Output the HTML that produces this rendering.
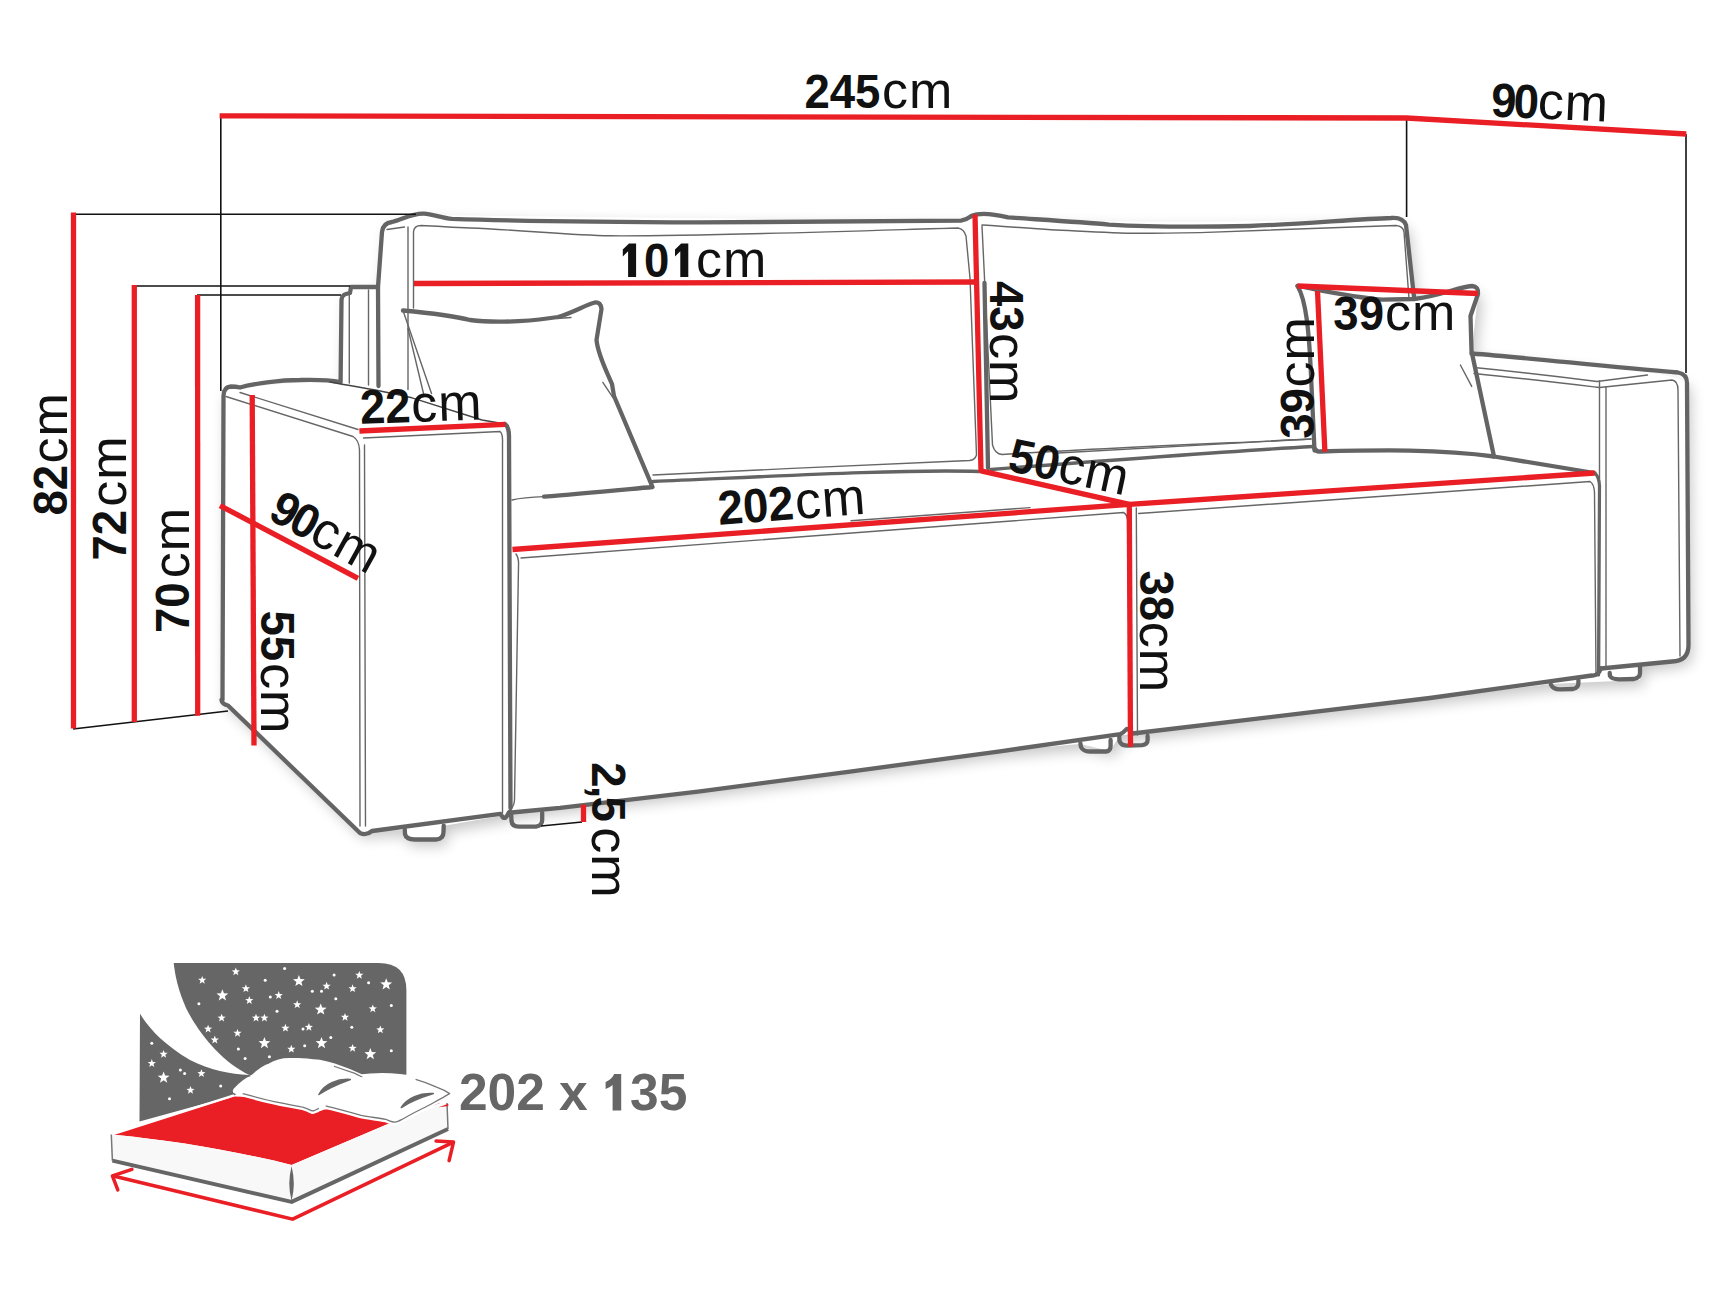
<!DOCTYPE html>
<html><head><meta charset="utf-8">
<style>
html,body{margin:0;padding:0;background:#fff;width:1726px;height:1295px;overflow:hidden}
svg{display:block}
text{font-family:"Liberation Sans",sans-serif;fill:#111}
.b{font-weight:bold}
.g{fill:none;stroke:#646464;stroke-width:4.3;stroke-linecap:round;stroke-linejoin:round}
.t{fill:none;stroke:#666;stroke-width:1.4;stroke-linecap:round;stroke-linejoin:round}
.r{fill:none;stroke:#e91f25;stroke-width:5.3;stroke-linecap:butt}
.k{fill:none;stroke:#111;stroke-width:1.6}
</style></head>
<body>
<svg width="1726" height="1295" viewBox="0 0 1726 1295">
<defs>
<path id="st" d="M0.000,-1.000 L0.247,-0.340 L0.951,-0.309 L0.399,0.130 L0.588,0.809 L0.000,0.420 L-0.588,0.809 L-0.399,0.130 L-0.951,-0.309 L-0.247,-0.340Z"/>
<filter id="blur" x="-20%" y="-50%" width="140%" height="200%"><feGaussianBlur stdDeviation="7"/></filter>
</defs>
<!-- shadow -->
<filter id="sh" x="-10%" y="-10%" width="120%" height="130%"><feGaussianBlur stdDeviation="7"/></filter>
<path d="M221.5,700 L221.5,392 C236,387 300,381 340.6,382 L341.5,295 L350,293 L351,287 L378,287 L383,223 C402,220 410,214 424,215 L961,221 L971.5,216 C1010,219 1140,226 1391,218 L1406,225 L1414,297 L1472,286 L1478,295 L1471.5,353.5 C1600,366 1678,372.5 1687,383 L1688.5,648 Q1688,660 1675,661 L1640,666 L1640,680 L1551,684 L1120,735.5 L1110,751 L1080,744 L1000,751.3 L700,791.3 L511,812.5 L500,816 L443,826 L443,840 L405,840 L405,830 L372,831 L360,833 L228,705.5 Z" fill="#000" opacity="0.22" transform="translate(4,6)" filter="url(#sh)"/>
<path d="M221.5,700 L221.5,392 C236,387 300,381 340.6,382 L341.5,295 L350,293 L351,287 L378,287 L383,223 C402,220 410,214 424,215 L961,221 L971.5,216 C1010,219 1140,226 1391,218 L1406,225 L1414,297 L1472,286 L1478,295 L1471.5,353.5 C1600,366 1678,372.5 1687,383 L1688.5,648 Q1688,660 1675,661 L1640,666 L1640,680 L1551,684 L1120,735.5 L1110,751 L1080,744 L1000,751.3 L700,791.3 L511,812.5 L500,816 L443,826 L443,840 L405,840 L405,830 L372,831 L360,833 L228,705.5 Z" fill="#fff"/>

<!-- SOFA THICK OUTLINE -->
<g class="g">
<!-- left arm + back silhouette -->
<path d="M222.5,700 L223.5,396 Q223.5,387 231,386.5 Q236,386.5 240,387.5 C252,384 280,380 300,380 C320,379.5 335,381 340.6,382 L341.5,300 Q342,295 346,294 L350,293 L351,287 L378,287 L382,232 Q383,223 392,222 C402,220 412,213 424,213.7 C432,214 442,218 452,218.9 C500,220.5 600,222 700,222.4 C800,222.5 900,221.5 961,220.7 Q966,220 971.5,216"/>
<path d="M971.5,216 C978,213 990,213 1008,217.4 C1030,219 1080,222 1109,224.6 C1150,227 1200,227 1250,226 C1300,224 1360,219 1391,218 Q1403,217 1406,225 L1414,297"/>
<!-- right back cushion left edge -->
<path d="M984.5,283 L988,468"/>
<path d="M378,287 L378.5,386"/>
<!-- right arm -->
<path d="M1471.5,353.5 C1530,358 1600,366 1678,372.5 Q1687,374 1687,383 L1688.5,645 Q1688.5,661 1672,661.5 L1601,668.5"/>
<!-- bottom front edge -->
<path d="M1601,668.5 Q1598,676 1592,675.5 L1430,698 L1132.6,733.5 Q1130,729 1126.8,728.9 Q1123,733 1120.4,734.1 L1000,751.3 L850,771.6 L700,791.3 L560,807.9 L511.5,812.5 Q509.5,810 508,814 Q506,819 503,817.5 L500.3,813.8 L372,831 Q366,836 360,833 L228,705.5 Q222,704 221.5,700"/>
<!-- left arm outer right -->
<path d="M505,424 Q509,427 509,436 L510.5,808"/>
<!-- seat divider / right seat end -->
<path d="M1594.5,473 Q1599,476 1599.5,486 L1598.5,675" stroke-width="3.2"/>
<!-- seat back edges -->
<path d="M653,481.5 C760,477 900,469 979,471.5" stroke-width="3.4"/>
<path d="M991,469.5 C1100,461 1250,450 1313.5,446.5" stroke-width="3.4"/>
<!-- right pillow bottom & seat right end -->
<path d="M1313.5,446.5 Q1316,452 1320,451.5 C1380,450 1440,449 1494,456.5 L1594.5,473"/>
<!-- left pillow -->
<path d="M403,310.5 C430,313 450,315 470,320 C500,324 540,320 558,317 C575,312 585,305 595,302.5 Q601,302 601.5,309 L596.5,340 C598,355 606,370 612,384 L614,396 L652.5,487 C620,490 580,494 544,496.6"/>
<!-- right pillow -->
<path d="M1297.5,286 C1320,290 1350,297 1382,299.6 L1414,299 C1440,296 1458,287 1472,286 Q1479,286.5 1478,294 L1470.5,316 L1471.5,351 L1494,456.5"/>
<path d="M1297.5,286 C1306,300 1309,330 1311,375 L1314.5,450.5"/>
<!-- feet -->
<path d="M404.8,829.5 L405,834 Q406,839.5 415,839.5 L436,839.5 Q443.5,839 443.5,832 L443.7,825.6"/>
<path d="M511.2,814.8 L511.5,821 Q512,826.6 519,826.6 L536,826.6 Q542,826 542.2,820 L542.2,812.8"/>
<path d="M1080.4,743.4 L1081,747 Q1083,751.5 1090,751.5 L1106,751.5 Q1110.6,751 1110.6,746 L1110.6,739.9"/>
<path d="M1119.2,735.3 L1119.5,741 Q1121,745.7 1128,745.7 L1142,745.1 Q1147.6,744.5 1147.6,740 L1147.6,735.9"/>
<path d="M1550.8,684.3 Q1553,689.3 1560,689.3 L1573,689 Q1578.4,688 1578.4,683 L1578.4,680.5"/>
<path d="M1609.7,673 L1610,676 Q1612,679.3 1619,679.3 L1634,679 Q1640,678 1640,673 L1640,666.7"/>
</g>

<!-- THIN LINES -->
<g class="t">
<!-- left arm internal -->
<path d="M240,392.5 L358,429.5"/>
<path d="M226,396.5 L353,436.5 Q359,440 359.5,450 L360,826"/>
<path d="M363.5,438 L500,431.5 Q503,434 502.5,443 L502.5,813"/>
<path d="M364.5,445 L365.5,826"/>
<path d="M330,382 C345,385 380,390 412,397.8 L482,420 L505,424" stroke="#444" stroke-width="1.4"/>
<!-- back left posts -->
<path d="M349.3,294 L349.3,383"/>
<path d="M368.5,290 L368.5,385"/>
<path d="M387,229.5 L404.5,227"/>
<path d="M408,227 L408,389.5"/>
<!-- left back cushion inner -->
<path d="M413.5,308 L413.5,232 Q414,225.5 421,225.5 C440,226 450,227.5 470,228 C520,230 570,235 610,235.8 C700,236.5 900,229.5 958,228 Q964,229 966,236 L970,278 L976.5,455 Q975,460 969.5,460.5 C860,465 760,470 653,475"/>
<!-- right back cushion inner -->
<path d="M982,225 C1000,226 1030,228.5 1051,229.7 C1080,231 1110,233 1138,233.3 C1160,233.3 1180,233 1200,232.6 C1280,230 1350,227 1396,225.5 Q1403,226 1404,232 L1409,298.5"/>
<path d="M982,226 L992.5,445 Q995,454 1002,454.5 C1100,448 1230,443 1311,439"/>
<!-- seat front edges -->
<path d="M521,558 L1123.5,512.5 Q1127,514 1127.5,520 L1130,735"/>
<path d="M516,554 Q519,558 518.5,566 L514.5,800 Q514,806 511,809"/>
<path d="M512,500 C520,498 530,497 544,496.6"/>
<path d="M1136.3,508 L1137.5,735"/>
<path d="M1138.6,513.5 L1590,481.5 Q1594,484 1594.5,492 L1596,675"/>
<path d="M1057.7,453 L1311,439"/>
<path d="M851,520.7 L1030,507.6"/>
<!-- right arm inner -->
<path d="M1474,367.5 C1520,372 1570,378 1597,381.5 L1647.5,375"/>
<path d="M1474,373.5 C1520,378 1570,384 1599.5,387.5 L1672,380 Q1678,381 1678,390 L1680,656"/>
<path d="M1599.5,381 L1599.5,672"/>
<path d="M1606,387 L1606,668"/>
<!-- pillow creases -->
<path d="M403,310.5 L431.5,393.5"/>
<path d="M408,328.5 L423.5,393.5"/>
<path d="M602.8,382.4 L613,397.6"/>
<path d="M557,318.5 L571,317.5"/>
<path d="M1460.4,365 L1471.7,386.4"/>
</g>

<!-- BLACK THIN DIM LINES -->
<g class="k">
<path d="M220.8,116 L220.8,391"/>
<path d="M73,214.3 L416,214.3"/>
<path d="M134,286 L350,286"/>
<path d="M197,295 L341,295"/>
<path d="M73,729 L228,711"/>
<path d="M1406.6,118 L1406.6,217"/>
<path d="M1686,134 L1686,373"/>
<path d="M541,826 L582,822"/>
</g>

<!-- RED DIM LINES -->
<g class="r">
<path d="M219.6,115.8 L1406.5,118 L1686.3,134" stroke-linejoin="round"/>
<path d="M73.5,212.6 L73.5,728.6"/>
<path d="M134.3,285 L134.3,722"/>
<path d="M197.6,295 L197.7,715.7"/>
<path d="M414,283.5 L975,282"/>
<path d="M975,214.4 L981,470.8 L1129.3,504.4" stroke-linejoin="round"/>
<path d="M512.5,549.5 L1129.3,504.4 L1594.7,473" stroke-linejoin="round"/>
<path d="M1129.3,504.4 L1130.5,746.8"/>
<path d="M359.4,431 L505.4,424.4"/>
<path d="M252.2,395 L254,745.6"/>
<path d="M220,505.6 L358,578.4"/>
<path d="M1297.4,286 L1478,293.5"/>
<path d="M1317.5,291 L1324.9,451.7"/>
<path d="M583.5,804.6 L583.5,822"/>
</g>

<!-- TEXT -->
<g transform="translate(804.4,107.8) rotate(0)"><text transform="scale(0.95,1)" x="0" y="0" font-weight="bold" font-size="48">245</text><text x="77.6" y="0" font-size="52" letter-spacing="1">cm</text></g>
<g transform="translate(360.4,423.8) rotate(-2)"><text transform="scale(0.95,1)" x="0" y="0" font-weight="bold" font-size="48">22</text><text x="51.5" y="0" font-size="52" letter-spacing="1">cm</text></g>
<g transform="translate(1333.3,330.4) rotate(0)"><text transform="scale(0.95,1)" x="0" y="0" font-weight="bold" font-size="48">39</text><text x="51.6" y="0" font-size="52" letter-spacing="1">cm</text></g>
<g transform="translate(1490.6,116.5) rotate(2.5)"><text transform="scale(0.95,1)" x="0" y="0" font-weight="bold" font-size="48" letter-spacing="-3">90</text><text x="46.6" y="0" font-size="52" letter-spacing="1">cm</text></g>
<g transform="translate(719,524.8) rotate(-4.3)"><text transform="scale(0.95,1)" x="0" y="0" font-weight="bold" font-size="48">202</text><text x="77.4" y="0" font-size="52" letter-spacing="1">cm</text></g>
<g transform="translate(1006.5,470.5) rotate(12)"><text transform="scale(0.95,1)" x="0" y="0" font-weight="bold" font-size="48">50</text><text x="50.5" y="0" font-size="52" letter-spacing="1">cm</text></g>
<g transform="translate(266.5,518) rotate(29)"><text transform="scale(0.95,1)" x="0" y="0" font-weight="bold" font-size="48" letter-spacing="-3">90</text><text x="46.5" y="0" font-size="52" letter-spacing="1">cm</text></g>
<g transform="translate(990,281) rotate(90)"><text transform="scale(0.95,1)" x="0" y="0" font-weight="bold" font-size="48">43</text><text x="51.9" y="0" font-size="52" letter-spacing="1">cm</text></g>
<g transform="translate(261.3,610.4) rotate(90)"><text transform="scale(0.95,1)" x="0" y="0" font-weight="bold" font-size="48">55</text><text x="52.6" y="0" font-size="52" letter-spacing="1">cm</text></g>
<g transform="translate(1140,570.5) rotate(90)"><text transform="scale(0.95,1)" x="0" y="0" font-weight="bold" font-size="48">38</text><text x="51.2" y="0" font-size="52" letter-spacing="1">cm</text></g>
<g transform="translate(592,762.3) rotate(90)"><text transform="scale(0.95,1)" x="0" y="0" font-weight="bold" font-size="48" letter-spacing="-2">2,5</text><text x="64.9" y="0" font-size="52" letter-spacing="1">cm</text></g>
<g transform="translate(66.8,515.6) rotate(-90)"><text transform="scale(0.95,1)" x="0" y="0" font-weight="bold" font-size="48">82</text><text x="52.2" y="0" font-size="52" letter-spacing="1">cm</text></g>
<g transform="translate(126.2,560.5) rotate(-90)"><text transform="scale(0.95,1)" x="0" y="0" font-weight="bold" font-size="48">72</text><text x="53.8" y="0" font-size="52" letter-spacing="1">cm</text></g>
<g transform="translate(189.2,633) rotate(-90)"><text transform="scale(0.95,1)" x="0" y="0" font-weight="bold" font-size="48">70</text><text x="54.8" y="0" font-size="52" letter-spacing="1">cm</text></g>
<g transform="translate(1313.5,438.8) rotate(-90)"><text transform="scale(0.95,1)" x="0" y="0" font-weight="bold" font-size="48">39</text><text x="51.3" y="0" font-size="52" letter-spacing="1">cm</text></g>
<g transform="translate(622.8,277)"><path d="M5.3,0 L13.3,0 L13.3,-33.6 L6.2,-33.6 L0,-27.5 L0,-20.5 L5.3,-25.8 Z" fill="#111"/><text x="22.4" y="0" transform="scale(0.95,1)" font-weight="bold" font-size="48">0</text><path transform="translate(52.2,0)" d="M5.3,0 L13.3,0 L13.3,-33.6 L6.2,-33.6 L0,-27.5 L0,-20.5 L5.3,-25.8 Z" fill="#111"/><text x="73.3" y="0" font-size="52" letter-spacing="1">cm</text></g>
<text x="458.9" y="1110.4" font-weight="bold" font-size="51.5" style="fill:#666">202 x</text>
<path transform="translate(605.6,1110.4)" d="M7,0 L15.6,0 L15.6,-36.5 L8.6,-36.5 Q6,-31 0,-28.5 L0,-21.5 Q4.5,-23 7,-25.5 Z" fill="#666"/>
<text x="630" y="1110.4" font-weight="bold" font-size="51.5" style="fill:#666">35</text>

<!-- BED ICON -->
<g id="bed">
<!-- gray night sky -->
<path d="M173.7,963.1 L378.7,963.1 Q406.4,963.1 406.4,990.3 L406.4,1075 L249.3,1075 C222,1062 199,1034 186,1008 C178,990 175,975 173.7,963.1 Z" fill="#666"/>
<path d="M140,1013.8 C150,1030 165,1045 190,1060 C210,1070 230,1074 249.3,1075 L260,1080 L234,1095.4 L139.5,1121.5 Z" fill="#666"/>
<g fill="#fff"><use href="#st" transform="translate(298.9,981.1) scale(6.2)"/><use href="#st" transform="translate(222.4,995.4) scale(6.2)"/><use href="#st" transform="translate(320.7,1009.6) scale(6.2)"/><use href="#st" transform="translate(386.2,984.4) scale(6.2)"/><use href="#st" transform="translate(264.4,1043.2) scale(6.2)"/><use href="#st" transform="translate(321.5,1043.2) scale(6.2)"/><use href="#st" transform="translate(370.3,1054.2) scale(6.2)"/><use href="#st" transform="translate(163.6,1077.7) scale(6.2)"/><use href="#st" transform="translate(235.8,971.8) scale(4.3)"/><use href="#st" transform="translate(202.2,980.2) scale(4.3)"/><use href="#st" transform="translate(245.9,988.6) scale(4.3)"/><use href="#st" transform="translate(278.7,995.4) scale(4.3)"/><use href="#st" transform="translate(326.6,986.1) scale(4.3)"/><use href="#st" transform="translate(359.3,975.2) scale(4.3)"/><use href="#st" transform="translate(352.6,988.6) scale(4.3)"/><use href="#st" transform="translate(249.3,1000.4) scale(4.3)"/><use href="#st" transform="translate(297.2,1004.6) scale(4.3)"/><use href="#st" transform="translate(372.8,1008.8) scale(4.3)"/><use href="#st" transform="translate(221.6,1018.0) scale(4.3)"/><use href="#st" transform="translate(256.0,1018.0) scale(4.3)"/><use href="#st" transform="translate(264.4,1018.0) scale(4.3)"/><use href="#st" transform="translate(345.0,1017.2) scale(4.3)"/><use href="#st" transform="translate(208.1,1029.0) scale(4.3)"/><use href="#st" transform="translate(237.5,1033.2) scale(4.3)"/><use href="#st" transform="translate(285.4,1028.1) scale(4.3)"/><use href="#st" transform="translate(308.9,1027.3) scale(4.3)"/><use href="#st" transform="translate(380.3,1029.8) scale(4.3)"/><use href="#st" transform="translate(214.8,1039.9) scale(4.3)"/><use href="#st" transform="translate(291.3,1049.1) scale(4.3)"/><use href="#st" transform="translate(352.6,1048.3) scale(4.3)"/><use href="#st" transform="translate(163.6,1054.2) scale(4.3)"/><use href="#st" transform="translate(151.8,1063.4) scale(4.3)"/><use href="#st" transform="translate(201.4,1073.5) scale(4.3)"/><use href="#st" transform="translate(190.5,1090.3) scale(4.3)"/><circle cx="284.6" cy="968.5" r="1.5"/><circle cx="265.2" cy="980.2" r="1.5"/><circle cx="334.1" cy="974.9" r="1.5"/><circle cx="368.6" cy="982.8" r="1.5"/><circle cx="312.3" cy="991.2" r="1.5"/><circle cx="321.5" cy="991.2" r="1.5"/><circle cx="335.8" cy="998.7" r="1.5"/><circle cx="198.9" cy="1003.8" r="1.5"/><circle cx="270.3" cy="997.0" r="1.5"/><circle cx="277.0" cy="1011.3" r="1.5"/><circle cx="391.3" cy="1005.4" r="1.5"/><circle cx="303.0" cy="1029.0" r="1.5"/><circle cx="351.8" cy="1027.3" r="1.5"/><circle cx="330.8" cy="1037.4" r="1.5"/><circle cx="238.4" cy="1049.1" r="1.5"/><circle cx="304.7" cy="1045.8" r="1.5"/><circle cx="245.1" cy="1058.4" r="1.5"/><circle cx="269.4" cy="1056.7" r="1.5"/><circle cx="391.3" cy="1050.8" r="1.5"/><circle cx="151.8" cy="1043.2" r="1.5"/><circle cx="180.4" cy="1070.1" r="1.5"/><circle cx="184.6" cy="1073.5" r="1.5"/><circle cx="220.7" cy="1086.1" r="1.5"/><circle cx="169.5" cy="1098.7" r="1.5"/></g>
<!-- mattress -->
<path d="M111.3,1134.5 L234,1096.5 L440,1103 L386.1,1124.7 L291.6,1164.9 C230,1150 170,1140 111.3,1134.5 Z" fill="#e91f25"/>
<path d="M234,1095.4 L111.3,1134.5" stroke="#fff" stroke-width="2.5" fill="none"/>
<path d="M111.3,1134.5 C170,1140 230,1150 291.6,1164.9 L291.6,1201.9 L112.4,1160.6 Z" fill="#f8f8f8"/>
<path d="M291.6,1164.9 L386.1,1124.7 L447,1103 L448,1129 L291.6,1201.9 Z" fill="#f8f8f8"/>
<path d="M111.3,1134.5 L112.4,1160.6" stroke="#777" stroke-width="1.5" fill="none"/>
<path d="M447,1103 L448,1129" stroke="#777" stroke-width="1.5" fill="none"/>
<path d="M112.4,1160.6 L291.6,1201.9 L448,1129" stroke="#666" stroke-width="4" fill="none" stroke-linejoin="round"/>
<path d="M291.6,1166 Q287,1184 291.6,1201 Q296,1184 291.6,1166 Z" fill="#666"/>
<!-- pillows -->
<g stroke-linejoin="round">
<path d="M235.9,1090.8 C242,1084 248,1080 252.2,1078.6 C258,1073 264,1068 270,1066.3 C277,1062 283,1060.9 289,1060.9 L298.5,1060.9 C305,1061 313,1062 320.3,1062.9 C326,1064 330,1065 333.9,1066.3 C342,1069 348,1071 361.1,1077.2 C368,1077 374,1076 381.6,1075.9 C395,1076 405,1077 415.6,1079.3 C425,1082 430,1084 436,1086.8 C442,1089 446,1091 449.6,1093.6 C447,1095 445,1096 442.8,1097.7 C436,1101 430,1105 422.4,1108.5 C415,1112 408,1116 402,1119.4 C399,1121 397,1122 395.2,1122.2 C391,1122 388,1120 385.7,1119.4 C378,1118 370,1117 361.1,1115.4 C350,1112 338,1109 325.7,1105.8 C322,1107 320,1108 318.9,1108.2 C316,1110 314,1111 312.1,1110.9 C308,1109 304,1107 301.2,1106.8 C292,1105 286,1104 279.5,1102.7 C265,1100 252,1096 242.7,1093.6 Z" fill="#fff" stroke="#fff" stroke-width="6"/>
<path d="M235.9,1090.8 C242,1084 248,1080 252.2,1078.6 C258,1073 264,1068 270,1066.3 C277,1062 283,1060.9 289,1060.9 L298.5,1060.9 C305,1061 313,1062 320.3,1062.9 C326,1064 330,1065 333.9,1066.3 C342,1069 348,1071 354.3,1073.1 C358,1075 360,1076 362.5,1077.2 L325.7,1105 C322,1107 320,1108 318.9,1108.2 C316,1110 314,1111 312.1,1110.9 C308,1109 304,1107 301.2,1106.8 C292,1105 286,1104 279.5,1102.7 C265,1100 252,1096 242.7,1093.6 Z" fill="#fff" stroke="none"/>
<path d="M242.7,1093.6 C252,1096 265,1100 279.5,1102.7 C286,1104 292,1105 301.2,1106.8 C304,1107 308,1109 312.1,1110.9 C314,1111 316,1110 318.9,1108.2" fill="none" stroke="#777" stroke-width="1.3"/>
<path d="M333.9,1066.3 C342,1069 348,1071 354.3,1073.1 C358,1075 360,1076 362.5,1077.2" fill="none" stroke="#777" stroke-width="1.2"/>
<path d="M328.5,1066.3 C340,1070 350,1074 361.1,1077.2 C368,1077 374,1076 381.6,1075.9 C395,1076 405,1077 415.6,1079.3 C425,1082 430,1084 436,1086.8 C442,1089 446,1091 449.6,1093.6 C447,1095 445,1096 442.8,1097.7 C436,1101 430,1105 422.4,1108.5 C415,1112 408,1116 402,1119.4 C399,1121 397,1122 395.2,1122.2 C391,1122 388,1120 385.7,1119.4 C378,1118 370,1117 361.1,1115.4 C350,1112 338,1109 325.7,1105.8 Z" fill="#fff" stroke="none"/>
<path d="M415.6,1079.3 C425,1082 430,1084 436,1086.8 C442,1089 446,1091 449.6,1093.6 C447,1095 445,1096 442.8,1097.7 C436,1101 430,1105 422.4,1108.5 C415,1112 408,1116 402,1119.4 C399,1121 397,1122 395.2,1122.2 C391,1122 388,1120 385.7,1119.4 C378,1118 370,1117 361.1,1115.4 C350,1112 338,1109 325.7,1105.8" fill="none" stroke="#777" stroke-width="1.3"/>
<path d="M318.9,1094.5 C324,1084 338,1078.5 350.3,1079.5 C342,1082.5 330,1087 318.9,1094.5 Z" fill="#666" stroke="#666" stroke-width="1.5"/>
<path d="M401.3,1107.5 C407,1098 420,1092.5 433.3,1093.6 C424,1096.5 412,1100.5 401.3,1107.5 Z" fill="#666" stroke="#666" stroke-width="1.5"/>
<path d="M438.7,1107.2 L448.3,1103.8 L448.3,1106" fill="#e91f25"/>
</g>
<!-- arrows -->
<path d="M112.4,1175.8 L292.7,1219.2 L453.5,1142.1" fill="none" stroke="#e91f25" stroke-width="3.5" stroke-linejoin="miter"/>
<path d="M131.9,1169.3 L112.4,1175.8 L117.8,1189.9" fill="none" stroke="#e91f25" stroke-width="3.5" stroke-linecap="round" stroke-linejoin="round"/>
<path d="M436.1,1141 L453.5,1142.1 L449.1,1160.6" fill="none" stroke="#e91f25" stroke-width="3.5" stroke-linecap="round" stroke-linejoin="round"/>
</g>
</svg>
</body></html>
